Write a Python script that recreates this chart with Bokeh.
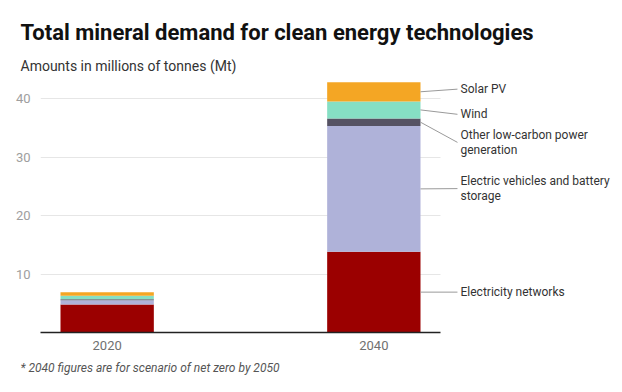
from bokeh.plotting import figure
from bokeh.models import Range1d, FixedTicker, Title, ColumnDataSource
from bokeh.core.properties import value
from bokeh.embed import file_html
from bokeh.resources import INLINE

years = ["2020", "2040"]
technologies = ["Electricity networks", "Electric vehicles and battery\nstorage",
                "Other low-carbon power\ngeneration", "Wind", "Solar PV"]
networks = [4.8, 13.8]
ev_battery = [0.7, 21.5]
other_low_carbon = [0.2, 1.3]
wind = [0.6, 2.9]
solar_pv = [0.6, 3.3]
y_ticks = [10, 20, 30, 40]

colors = ["#9b0000", "#afb2d9", "#555263", "#86dfc4", "#f4a624"]
keys = ["networks", "ev", "other", "wind", "solar"]
series = [networks, ev_battery, other_low_carbon, wind, solar_pv]

xpos = list(range(len(years)))
data = {"x": xpos}
for k, s in zip(keys, series):
    data[k] = s
src = ColumnDataSource(data)

W, H = 622, 392
LEFT, TOP, BOTTOM = 40, 78, 60
BAR_W = 0.35
p = figure(width=W, height=H, output_backend="svg", toolbar_location=None,
           x_range=Range1d(-0.25, 1.9325), y_range=Range1d(0, 43.42),
           min_border_left=LEFT, min_border_right=0, min_border_top=TOP,
           min_border_bottom=BOTTOM)
p.outline_line_color = None
p.background_fill_color = "white"
p.border_fill_color = "white"

p.vbar_stack(keys, x="x", width=BAR_W, color=colors, source=src, line_color=None)

# leader lines and labels for the last bar
last = len(years) - 1
label_y = [6.9, 24.6, 32.5, 37.3, 41.6]  # label anchor positions (layout)
cum = 0.0
xs0, xs1, ys0, ys1 = [], [], [], []
for s, ly in zip(series, label_y):
    v = s[last]
    mid = cum + v / 2
    cum += v
    xs0.append(last + BAR_W / 2)
    ys0.append(mid)
    xs1.append(last + 0.3136)
    ys1.append(ly)
p.segment(x0=xs0, y0=ys0, x1=xs1, y1=ys1, line_color="#9a9a9a", line_width=1)
p.text(x=[last + 0.325] * len(label_y), y=label_y, text=technologies,
       text_font=value("Roboto"), text_font_size="12px", text_color="#333333",
       text_align="left", text_baseline="middle", text_line_height=1.1)

# axes
p.xaxis.ticker = FixedTicker(ticks=xpos)
p.xaxis.major_label_overrides = {i: y for i, y in enumerate(years)}
p.xaxis.bounds = (-0.25, 1.25)
p.xaxis.axis_line_color = "#222222"
p.xaxis.axis_line_width = 1.5
p.xaxis.major_tick_line_color = None
p.xaxis.minor_tick_line_color = None
p.xaxis.major_label_text_font = "Roboto"
p.xaxis.major_label_text_font_size = "13px"
p.xaxis.major_label_text_color = "#707070"
p.xaxis.major_label_standoff = 2

p.yaxis.ticker = FixedTicker(ticks=y_ticks)
p.yaxis.axis_line_color = None
p.yaxis.major_tick_line_color = None
p.yaxis.minor_tick_line_color = None
p.yaxis.major_label_text_font = "Roboto"
p.yaxis.major_label_text_font_size = "13px"
p.yaxis.major_label_text_color = "#9e9e9e"
p.yaxis.major_label_standoff = 4

p.xgrid.grid_line_color = None
p.ygrid.grid_line_color = "#e6e6e6"
p.ygrid.ticker = FixedTicker(ticks=y_ticks)
try:
    p.ygrid.cross_bounds = (-0.25, 1.25)
except Exception:
    pass

# main title (outermost) and subtitle (closest to the frame)
p.title.text = "Total mineral demand for clean energy technologies"
p.title.text_font = "Roboto"
p.title.text_font_size = "22px"
p.title.text_font_style = "bold"
p.title.text_color = "#111111"
p.title.offset = -20
p.title.standoff = 12
p.add_layout(Title(text="Amounts in millions of tonnes (Mt)",
                   text_font="Roboto", text_font_style="normal", text_font_size="14px",
                   text_color="#333333", offset=-20, standoff=10), "above")
p.add_layout(Title(text="* 2040 figures are for scenario of net zero by 2050",
                   text_font="Roboto", text_font_style="italic", text_font_size="12px",
                   text_color="#555555", offset=-20, standoff=13,
                   vertical_align="bottom"), "below")

open("out.html", "w").write(file_html(p, INLINE))
